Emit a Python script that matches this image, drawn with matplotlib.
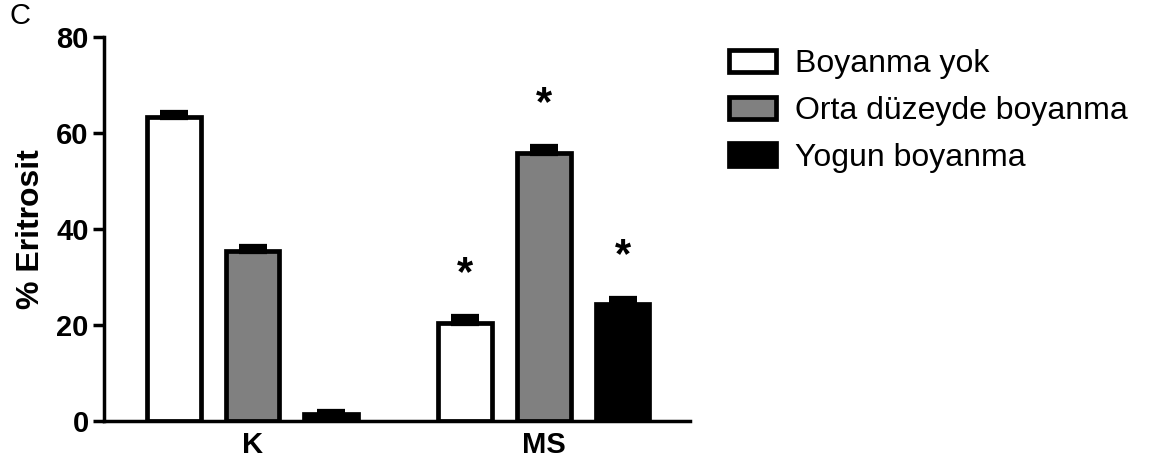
import matplotlib
matplotlib.use("Agg")
import matplotlib.pyplot as plt
import numpy as np
from matplotlib.patches import Patch

plt.rcParams['font.family'] = ['Liberation Sans', 'DejaVu Sans']

groups = ['K', 'MS']
series = ['Boyanma yok', 'Orta düzeyde boyanma', 'Yogun boyanma']
values = {
    'Boyanma yok': [63.3, 20.5],
    'Orta düzeyde boyanma': [35.4, 55.8],
    'Yogun boyanma': [1.5, 24.4],
}
errors = {
    'Boyanma yok': [0.8, 1.1],
    'Orta düzeyde boyanma': [0.8, 1.2],
    'Yogun boyanma': [0.3, 1.0],
}
colors = ['white', '#808080', 'black']
significant = {
    'Boyanma yok': [False, True],
    'Orta düzeyde boyanma': [False, True],
    'Yogun boyanma': [False, True],
}

fig = plt.figure(figsize=(11.63, 4.69), dpi=100)
ax = fig.add_axes([0.0894, 0.1023, 0.5035, 0.8187])

x = np.arange(len(groups))
spacing = 0.27
width = 0.185
for i, s in enumerate(series):
    xs = x + (i - 1) * spacing
    ax.bar(xs, values[s], width=width, color=colors[i], edgecolor='black',
           linewidth=3.4, zorder=2)
    ax.errorbar(xs, values[s], yerr=[np.zeros(len(groups)), errors[s]], fmt='none',
                ecolor='black', elinewidth=3, capsize=10, capthick=4.5, zorder=3)
    for j, sig in enumerate(significant[s]):
        if sig:
            ax.text(xs[j], values[s][j] + errors[s][j] + 9.0, '*', ha='center', va='center',
                    fontsize=30, fontweight='bold')

ax.set_xlim(-0.51, 1.50)
ax.set_ylim(0, 80)
ax.set_yticks([0, 20, 40, 60, 80])
ax.set_xticks(x)
ax.set_xticklabels(groups)
for lab in ax.get_xticklabels() + ax.get_yticklabels():
    lab.set_fontweight('bold')
    lab.set_fontsize(21)
ax.tick_params(axis='y', direction='out', length=8, width=2.5, pad=3)
ax.tick_params(axis='x', length=0, pad=7)
ax.spines['top'].set_visible(False)
ax.spines['right'].set_visible(False)
ax.spines['left'].set_linewidth(2.5)
ax.spines['bottom'].set_linewidth(2.5)
ax.set_ylabel('% Eritrosit', fontsize=23, fontweight='bold', labelpad=7)

handles = [Patch(facecolor=colors[i], edgecolor='black', linewidth=3.4, label=s)
           for i, s in enumerate(series)]
fig.legend(handles=handles, loc='upper left', bbox_to_anchor=(0.616, 0.922),
           frameon=False, fontsize=23, handlelength=1.45, handleheight=0.7,
           labelspacing=0.52, handletextpad=0.62, borderaxespad=0)

fig.text(0.008, 0.966, 'C', fontsize=21, ha='left', va='center')

fig.savefig('out.png', dpi=100)
